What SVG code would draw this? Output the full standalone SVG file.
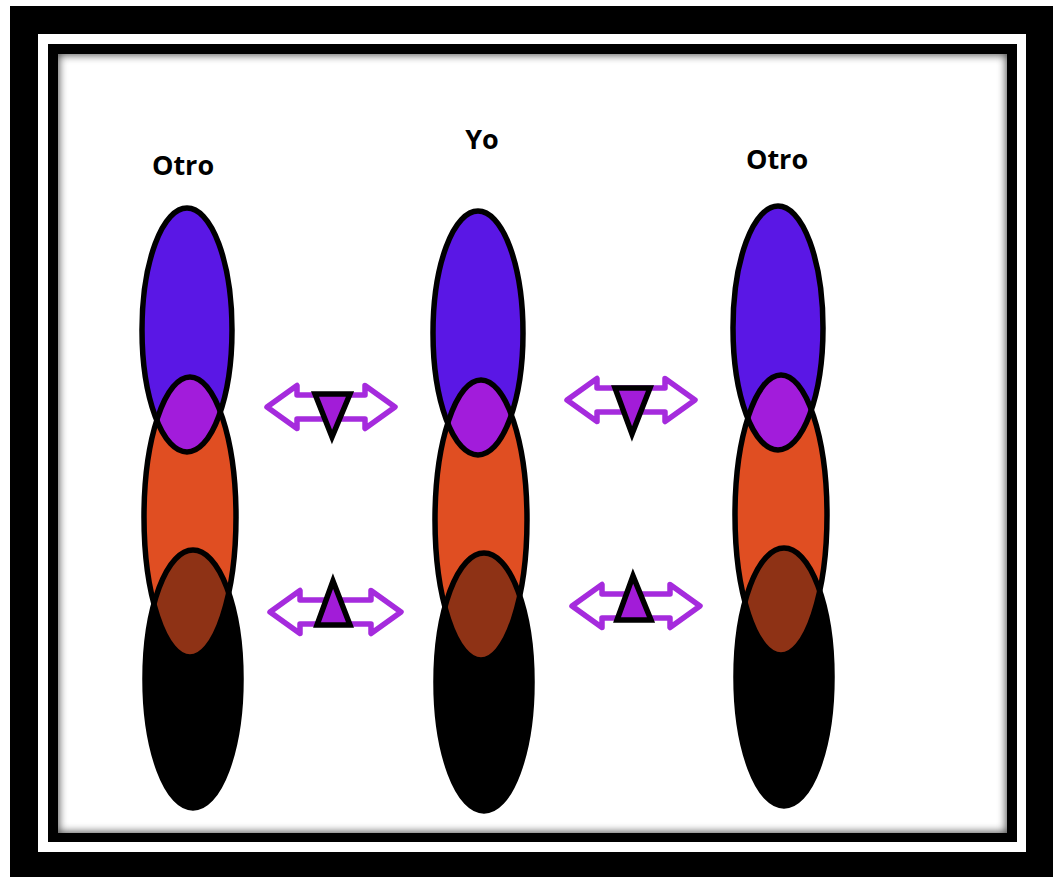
<svg xmlns="http://www.w3.org/2000/svg" width="1053" height="877" viewBox="0 0 1053 877">
<style>
.lbl{font-family:"Open Sans","Liberation Sans",sans-serif;font-weight:bold;font-size:27px;fill:#000;text-anchor:middle}
.arr{fill:#fff;stroke:#A52BDD;stroke-width:5.5;stroke-linejoin:round}
.tri{fill:#A21CD8;stroke:#000;stroke-width:5.5;stroke-linejoin:miter}
.ol{fill:none;stroke:#000;stroke-width:5.5}
</style>
<defs>
<clipPath id="panel"><rect x="58" y="54" width="949" height="779"/></clipPath>
<filter id="blur" x="-10%" y="-10%" width="120%" height="120%"><feGaussianBlur stdDeviation="4"/></filter>
<clipPath id="cOrange"><ellipse cx="3" cy="187" rx="46" ry="140"/></clipPath>
<clipPath id="cBlack"><ellipse cx="6" cy="349" rx="48" ry="129"/></clipPath>
<g id="column">
<ellipse cx="0" cy="0" rx="45" ry="122" fill="#5A17E5"/>
<ellipse cx="3" cy="187" rx="46" ry="140" fill="#E04E22"/>
<ellipse cx="0" cy="0" rx="45" ry="122" fill="#A21CDB" clip-path="url(#cOrange)"/>
<ellipse cx="6" cy="349" rx="48" ry="129" fill="#000"/>
<ellipse cx="3" cy="187" rx="46" ry="140" fill="#8E3215" clip-path="url(#cBlack)"/>
<ellipse class="ol" cx="0" cy="0" rx="45" ry="122"/>
<ellipse class="ol" cx="3" cy="187" rx="46" ry="140"/>
<ellipse class="ol" cx="6" cy="349" rx="48" ry="129"/>
</g>
</defs>
<g id="frame">
<rect x="0" y="0" width="1053" height="877" fill="#fff"/>
<rect x="10" y="6" width="1043" height="871" fill="#000"/>
<rect x="38" y="34" width="988" height="818" fill="#fff"/>
<rect x="48" y="44" width="969" height="798" fill="#000"/>
<rect x="58" y="54" width="949" height="779" fill="#fff"/>
<g clip-path="url(#panel)"><rect x="54" y="50" width="957" height="787" fill="none" stroke="#000" stroke-width="10" filter="url(#blur)" opacity="0.7"/></g>
</g>
<g id="labels">
<text class="lbl" x="183" y="175">Otro</text>
<text class="lbl" x="482" y="149">Yo</text>
<text class="lbl" x="777" y="169">Otro</text>
</g>
<g id="otro-left"><use href="#column" transform="translate(187,330)"/></g>
<g id="yo"><use href="#column" transform="translate(478,333)"/></g>
<g id="otro-right"><use href="#column" transform="translate(778,328)"/></g>
<g id="connectors">
<path class="arr" d="M267,407 L297,385.5 L297,395 L365,395 L365,385.5 L395,407 L365,428.5 L365,419 L297,419 L297,428.5 Z"/>
<path class="arr" d="M270,612 L300,590.5 L300,600 L371,600 L371,590.5 L401,612 L371,633.5 L371,624 L300,624 L300,633.5 Z"/>
<path class="arr" d="M567,400 L597,378.5 L597,388 L665,388 L665,378.5 L695,400 L665,421.5 L665,412 L597,412 L597,421.5 Z"/>
<path class="arr" d="M572,606 L602,584.5 L602,594 L670,594 L670,584.5 L700,606 L670,627.5 L670,618 L602,618 L602,627.5 Z"/>
<polygon class="tri" points="315,394 350,394 332,437"/>
<polygon class="tri" points="333,581 317,625 350,625"/>
<polygon class="tri" points="615,388 650,388 632,434"/>
<polygon class="tri" points="633,576 617,620 651,620"/>
</g>
</svg>
